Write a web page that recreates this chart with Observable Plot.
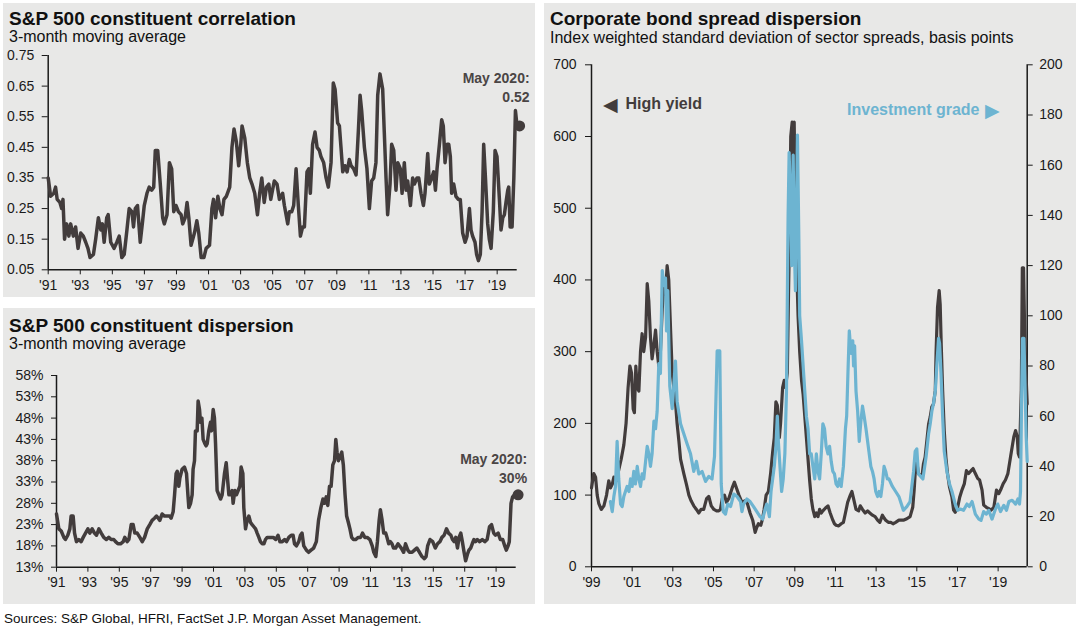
<!DOCTYPE html>
<html><head><meta charset="utf-8">
<script src="https://cdn.jsdelivr.net/npm/d3@7"></script>
<script src="https://cdn.jsdelivr.net/npm/@observablehq/plot@0.6"></script>
<style>
body{margin:0;width:1080px;height:630px;position:relative;background:#fff;font-family:"Liberation Sans",Arial,sans-serif;overflow:hidden}
.box{position:absolute;background:#e8e8e7}
.t{position:absolute;font-weight:bold;font-size:19px;line-height:19px;color:#111;white-space:nowrap}
.s{position:absolute;font-size:16px;line-height:16px;color:#111;white-space:nowrap}
.src{position:absolute;font-size:13.5px;line-height:13.5px;color:#111;white-space:nowrap}
.chart{position:absolute}
</style></head><body>
<div class="box" style="left:3px;top:3px;width:532px;height:294px"></div>
<div class="box" style="left:3px;top:308px;width:532px;height:296px"></div>
<div class="box" style="left:544px;top:3px;width:532px;height:601px"></div>
<div class="t" style="left:9px;top:9px">S&amp;P 500 constituent correlation</div>
<div class="s" style="left:9px;top:29px">3-month moving average</div>
<div class="t" style="left:9px;top:316px">S&amp;P 500 constituent dispersion</div>
<div class="s" style="left:9px;top:336px">3-month moving average</div>
<div class="t" style="left:550px;top:9px">Corporate bond spread dispersion</div>
<div class="s" style="left:550px;top:29.5px">Index weighted standard deviation of sector spreads, basis points</div>
<div class="src" style="left:4px;top:611.5px">Sources: S&amp;P Global, HFRI, FactSet J.P. Morgan Asset Management.</div>
<div id="c1" class="chart" style="left:0;top:0"></div>
<div id="c2" class="chart" style="left:0;top:300px"></div>
<div id="c3" class="chart" style="left:540px;top:0"></div>
<script>
// ---------- DATA ----------
const leftYearTicks = [1991,1993,1995,1997,1999,2001,2003,2005,2007,2009,2011,2013,2015,2017,2019];
const bondYearTicks = [1999,2001,2003,2005,2007,2009,2011,2013,2015,2017,2019];
const corrTicks = [0.05,0.15,0.25,0.35,0.45,0.55,0.65,0.75];
const dispTicks = [13,18,23,28,33,38,43,48,53,58];
const hyTicks = [0,100,200,300,400,500,600,700];
const igTicks = [0,20,40,60,80,100,120,140,160,180,200];
const annotationLabel = "May 2020:";
const hyLabel = "High yield";
const igLabel = "Investment grade";

// S&P 500 constituent correlation, [decimal year, value]
const corrSeries = [
[1991.00,0.35],[1991.15,0.29],[1991.35,0.30],[1991.46,0.32],[1991.56,0.28],[1991.73,0.27],[1991.84,0.25],[1991.92,0.28],[1992.02,0.15],[1992.15,0.20],[1992.29,0.16],[1992.40,0.20],[1992.57,0.16],[1992.71,0.19],[1992.86,0.12],[1993.03,0.17],[1993.19,0.16],[1993.34,0.14],[1993.48,0.12],[1993.61,0.09],[1993.82,0.10],[1993.96,0.15],[1994.13,0.22],[1994.28,0.18],[1994.38,0.20],[1994.49,0.14],[1994.65,0.22],[1994.74,0.23],[1994.90,0.14],[1995.11,0.12],[1995.28,0.14],[1995.43,0.16],[1995.59,0.09],[1995.74,0.10],[1995.91,0.18],[1996.05,0.25],[1996.22,0.24],[1996.32,0.19],[1996.43,0.25],[1996.57,0.26],[1996.74,0.14],[1996.89,0.21],[1996.99,0.26],[1997.16,0.30],[1997.30,0.32],[1997.45,0.31],[1997.58,0.32],[1997.68,0.44],[1997.83,0.44],[1997.99,0.33],[1998.14,0.22],[1998.24,0.20],[1998.41,0.23],[1998.56,0.40],[1998.70,0.38],[1998.83,0.24],[1998.97,0.26],[1999.12,0.24],[1999.29,0.23],[1999.39,0.20],[1999.54,0.22],[1999.66,0.27],[1999.77,0.22],[1999.91,0.13],[2000.12,0.17],[2000.27,0.21],[2000.39,0.17],[2000.54,0.09],[2000.71,0.09],[2000.85,0.12],[2001.06,0.13],[2001.21,0.25],[2001.31,0.28],[2001.44,0.22],[2001.58,0.29],[2001.71,0.25],[2001.84,0.23],[2001.96,0.28],[2002.11,0.29],[2002.32,0.32],[2002.46,0.45],[2002.59,0.51],[2002.73,0.47],[2002.88,0.39],[2003.01,0.46],[2003.09,0.52],[2003.26,0.48],[2003.42,0.40],[2003.57,0.35],[2003.71,0.33],[2003.88,0.30],[2004.05,0.23],[2004.19,0.30],[2004.32,0.35],[2004.47,0.27],[2004.61,0.32],[2004.76,0.33],[2004.88,0.28],
[2005.10,0.34],[2005.27,0.33],[2005.42,0.28],[2005.62,0.30],[2005.73,0.26],[2005.94,0.20],[2006.04,0.24],[2006.19,0.24],[2006.31,0.26],[2006.46,0.38],[2006.60,0.26],[2006.73,0.16],[2006.87,0.19],[2006.98,0.19],[2007.14,0.37],[2007.25,0.38],[2007.35,0.30],[2007.49,0.46],[2007.64,0.50],[2007.77,0.45],[2007.91,0.44],[2008.01,0.42],[2008.18,0.40],[2008.33,0.35],[2008.47,0.32],[2008.64,0.40],[2008.78,0.66],[2008.89,0.64],[2009.05,0.53],[2009.16,0.52],[2009.26,0.45],[2009.37,0.37],[2009.51,0.39],[2009.64,0.37],[2009.78,0.41],[2009.89,0.39],[2010.05,0.38],[2010.20,0.36],[2010.34,0.50],[2010.45,0.62],[2010.55,0.57],[2010.72,0.45],[2010.88,0.38],[2011.03,0.25],[2011.17,0.34],[2011.30,0.35],[2011.44,0.40],[2011.55,0.62],[2011.69,0.69],[2011.86,0.64],[2011.96,0.50],[2012.07,0.35],[2012.17,0.23],[2012.32,0.33],[2012.42,0.46],[2012.55,0.44],[2012.69,0.31],[2012.80,0.40],[2012.96,0.38],[2013.07,0.30],[2013.21,0.40],[2013.32,0.31],[2013.42,0.34],[2013.59,0.26],[2013.73,0.35],[2013.84,0.33],[2014.00,0.35],[2014.11,0.35],[2014.25,0.30],[2014.40,0.26],[2014.50,0.30],[2014.67,0.43],[2014.77,0.33],[2014.92,0.35],[2015.04,0.37],[2015.15,0.31],[2015.25,0.38],[2015.40,0.46],[2015.54,0.54],[2015.64,0.52],[2015.75,0.40],[2015.88,0.46],[2015.98,0.46],[2016.08,0.42],[2016.16,0.30],[2016.29,0.33],[2016.43,0.29],[2016.58,0.28],[2016.70,0.28],[2016.85,0.17],[2017.00,0.14],[2017.12,0.16],[2017.27,0.25],[2017.37,0.18],[2017.47,0.16],[2017.62,0.14],[2017.72,0.10],[2017.83,0.08],[2017.95,0.10],[2018.06,0.24],[2018.16,0.46],[2018.27,0.35],[2018.41,0.20],[2018.51,0.15],[2018.62,0.12],[2018.76,0.24],[2018.87,0.44],[2018.99,0.42],[2019.14,0.28],[2019.24,0.18],[2019.35,0.22],[2019.45,0.23],[2019.55,0.27],[2019.66,0.31],[2019.72,0.32],[2019.81,0.19],[2019.93,0.19],[2020.04,0.35],[2020.14,0.57],[2020.24,0.52],[2020.40,0.52]
];

// S&P 500 constituent dispersion (%), [decimal year, value]
const dispSeries = [
[1991.00,25.5],[1991.15,22],[1991.30,21.5],[1991.47,20],[1991.57,19.5],[1991.72,20.5],[1991.85,22],[1991.93,25],[1992.06,25],[1992.15,21],[1992.27,19],[1992.42,19.5],[1992.57,19],[1992.70,20],[1992.85,21],[1993.00,22],[1993.12,21],[1993.27,22],[1993.42,21],[1993.55,20.5],[1993.70,22],[1993.85,21],[1994.01,20],[1994.18,19.5],[1994.33,20],[1994.48,19.5],[1994.65,19.5],[1994.76,19],[1994.91,18.5],[1995.08,18.5],[1995.25,19],[1995.35,20],[1995.50,19],[1995.61,19.5],[1995.76,23],[1995.88,23],[1995.99,21],[1996.14,21],[1996.31,20],[1996.46,19],[1996.61,20],[1996.78,22],[1996.94,23],[1997.09,24],[1997.24,24.5],[1997.37,25],[1997.48,24.5],[1997.58,24],[1997.73,25.5],[1997.88,25],[1998.05,25],[1998.20,25],[1998.30,24.5],[1998.43,26],[1998.52,30],[1998.62,35],[1998.69,35.5],[1998.79,32],[1998.86,34],[1999.00,36],[1999.15,36.5],[1999.28,35],[1999.37,30],[1999.43,27],[1999.54,28],[1999.64,30],[1999.70,36],[1999.79,38],[1999.85,45],[1999.96,45],[2000.02,52],[2000.11,50],[2000.17,47],[2000.26,48],[2000.34,43],[2000.45,42],[2000.53,41.5],[2000.60,42],[2000.70,45],[2000.81,47],[2000.87,45],[2000.98,50],[2001.06,48],[2001.13,42],[2001.23,31],[2001.34,30],[2001.45,29],[2001.55,30],[2001.70,35],[2001.81,37.5],[2001.91,33],[2001.98,30],[2002.08,30],[2002.19,31],[2002.25,28],[2002.36,31],[2002.46,30],[2002.57,31],[2002.68,32],[2002.76,36.5],[2002.87,35],[2002.93,27],[2003.04,22],[2003.14,24],[2003.25,25],[2003.36,23.5],[2003.46,23],[2003.57,22.5],[2003.68,22],[2003.78,21],[2003.89,20],[2003.99,19],[2004.10,18.5],[2004.21,18.5],[2004.31,19.5],[2004.42,20],[2004.59,20],
[2004.81,20],[2004.96,19.5],[2005.11,20.5],[2005.23,19],[2005.38,19],[2005.53,19.5],[2005.65,19],[2005.80,20],[2005.95,20.5],[2006.07,20.5],[2006.16,18.5],[2006.28,18],[2006.43,19],[2006.54,20.5],[2006.64,21],[2006.75,18],[2006.92,17],[2007.06,16.5],[2007.21,17],[2007.38,17.5],[2007.55,19],[2007.69,24],[2007.84,27],[2007.97,29],[2008.07,28],[2008.18,29.5],[2008.28,27.5],[2008.39,32],[2008.49,32],[2008.60,37],[2008.71,38],[2008.79,43],[2008.87,40],[2008.96,38],[2009.06,39],[2009.17,40],[2009.27,37],[2009.38,30],[2009.48,25],[2009.59,23.5],[2009.69,22],[2009.80,20],[2009.91,19.5],[2010.05,19.5],[2010.22,20],[2010.37,20],[2010.49,21],[2010.64,20],[2010.79,20],[2010.96,19.5],[2011.11,18],[2011.21,16.5],[2011.34,15.5],[2011.44,19],[2011.55,24],[2011.63,26.5],[2011.74,24],[2011.84,21],[2011.97,21],[2012.05,20],[2012.16,18.5],[2012.26,19],[2012.37,18.5],[2012.47,17.5],[2012.60,17.5],[2012.75,18.5],[2012.85,18],[2012.96,17.5],[2013.11,16.5],[2013.23,18.5],[2013.38,17],[2013.48,16.5],[2013.65,16.5],[2013.80,17],[2013.95,17.5],[2014.12,16.5],[2014.28,15.5],[2014.43,15],[2014.54,15.5],[2014.64,18],[2014.79,19.5],[2014.96,19],[2015.13,17.5],[2015.27,18.5],[2015.42,19],[2015.55,20],[2015.69,20.5],[2015.84,22],[2015.97,21],[2016.12,20.5],[2016.22,19.5],[2016.33,19],[2016.43,20],[2016.54,17.5],[2016.64,20],[2016.75,21],[2016.85,19],[2016.96,16.5],[2017.06,14.5],[2017.17,16],[2017.27,17],[2017.38,17.5],[2017.48,18.5],[2017.59,19.5],[2017.69,19],[2017.80,19.5],[2017.95,19],[2018.12,19.5],[2018.28,19],[2018.43,19.5],[2018.58,22.5],[2018.71,23],[2018.85,21],[2018.96,20.5],[2019.13,21],[2019.27,19.5],[2019.42,19.5],[2019.55,18],[2019.65,17],[2019.76,18],[2019.84,19],[2019.95,28],[2020.05,29.5],[2020.18,30],[2020.26,30],[2020.40,30]
];

// High yield sector spread dispersion (bp), [decimal year, value]
const hySeries = [
[1999.00,110],[1999.11,130],[1999.20,125],[1999.28,100],[1999.36,88],[1999.48,80],[1999.61,85],[1999.74,100],[1999.85,120],[1999.93,110],[2000.02,115],[2000.10,125],[2000.23,120],[2000.34,135],[2000.46,150],[2000.59,170],[2000.70,200],[2000.80,250],[2000.89,280],[2000.97,270],[2001.05,220],[2001.11,215],[2001.18,280],[2001.25,250],[2001.33,245],[2001.41,300],[2001.49,325],[2001.57,300],[2001.66,320],[2001.74,395],[2001.82,370],[2001.90,320],[2001.98,290],[2002.07,310],[2002.15,330],[2002.23,300],[2002.31,280],[2002.39,300],[2002.48,360],[2002.56,390],[2002.64,380],[2002.72,420],[2002.80,400],[2002.89,330],[2002.97,270],[2003.05,250],[2003.13,230],[2003.21,200],[2003.30,175],[2003.38,150],[2003.46,140],[2003.54,130],[2003.67,115],[2003.79,100],[2003.90,92],[2004.03,85],[2004.16,80],[2004.28,75],[2004.39,80],[2004.52,80],[2004.66,95],[2004.77,98],[2004.89,85],[2005.02,80],[2005.15,78],[2005.26,78],[2005.34,80],[2005.43,95],[2005.54,100],[2005.64,90],[2005.75,95],[2005.92,110],[2006.03,118],[2006.13,110],[2006.25,100],
[2006.40,90],[2006.56,92],[2006.67,88],[2006.80,75],[2006.93,65],[2007.05,48],[2007.13,55],[2007.21,60],[2007.33,58],[2007.42,68],[2007.49,80],[2007.59,100],[2007.70,105],[2007.81,130],[2007.91,160],[2007.99,180],[2008.07,230],[2008.14,225],[2008.24,180],[2008.30,200],[2008.40,250],[2008.48,260],[2008.54,250],[2008.63,270],[2008.69,380],[2008.76,500],[2008.80,600],[2008.87,620],[2008.92,510],[2008.97,620],[2009.02,500],[2009.08,430],[2009.16,350],[2009.24,300],[2009.33,260],[2009.41,240],[2009.49,210],[2009.57,180],[2009.65,150],[2009.73,120],[2009.81,95],[2009.89,80],[2009.98,70],[2010.06,75],[2010.14,70],[2010.22,80],[2010.30,75],[2010.38,78],[2010.51,82],[2010.63,85],[2010.74,75],[2010.87,65],[2010.95,60],[2011.03,58],[2011.16,57],[2011.28,60],[2011.39,62],[2011.49,75],[2011.60,90],[2011.73,100],[2011.81,105],[2011.89,95],[2012.01,80],[2012.14,78],[2012.22,85],[2012.33,80],[2012.46,75],[2012.58,78],[2012.69,75],[2012.82,72],[2012.95,70],[2013.07,65],[2013.18,62],[2013.31,72],[2013.39,68],[2013.47,65],[2013.60,62],[2013.72,62],[2013.83,60],[2013.96,62],[2014.12,65],
[2014.34,65],[2014.51,67],[2014.67,70],[2014.80,83],[2014.87,107],[2014.95,144],[2015.00,146],[2015.08,130],[2015.25,125],[2015.33,144],[2015.41,153],[2015.58,199],[2015.66,209],[2015.74,223],[2015.82,227],[2015.91,246],[2015.95,301],[2016.02,362],[2016.10,385],[2016.15,366],[2016.20,311],[2016.27,246],[2016.35,190],[2016.43,153],[2016.51,130],[2016.61,111],[2016.73,97],[2016.81,79],[2016.89,76],[2017.01,83],[2017.11,97],[2017.22,107],[2017.34,116],[2017.44,134],[2017.55,130],[2017.67,134],[2017.77,137],[2017.88,130],[2018.00,123],[2018.09,121],[2018.21,107],[2018.29,86],[2018.42,83],[2018.54,81],[2018.65,79],[2018.79,83],[2018.92,107],[2019.03,102],[2019.12,107],[2019.25,116],[2019.36,121],[2019.48,130],[2019.61,153],[2019.69,167],[2019.77,181],[2019.86,190],[2019.94,181],[2019.99,158],[2020.05,153],[2020.14,246],[2020.19,417],[2020.25,417],[2020.30,338],[2020.37,269],[2020.43,227]
];

// Investment grade sector spread dispersion (bp), [decimal year, value]
const igSeries = [
[1999.93,26],[2000.02,22],[2000.10,28],[2000.18,32],[2000.26,50],[2000.34,35],[2000.43,25],[2000.51,24],[2000.59,28],[2000.67,30],[2000.75,32],[2000.84,30],[2000.92,35],[2001.00,32],[2001.08,38],[2001.16,33],[2001.25,40],[2001.33,35],[2001.41,32],[2001.49,37],[2001.57,35],[2001.66,42],[2001.74,48],[2001.82,45],[2001.90,40],[2001.98,45],[2002.07,58],[2002.15,55],[2002.23,62],[2002.31,81],[2002.39,77],[2002.48,118],[2002.56,112],[2002.64,115],[2002.69,94],[2002.75,110],[2002.85,72],[2002.97,63],[2003.13,82],[2003.21,66],[2003.38,57],[2003.54,53],[2003.70,49],[2003.87,45],[2004.03,38],[2004.16,42],[2004.28,37],[2004.44,38],[2004.61,34],[2004.77,36],[2004.93,35],[2005.05,44],[2005.18,86],[2005.31,86],[2005.38,33],[2005.48,22],[2005.59,21],[2005.70,25],[2005.84,24],[2006.00,29],[2006.16,28],[2006.33,26],
[2006.40,22],[2006.48,25],[2006.64,27],[2006.80,26],[2006.97,24],[2007.13,22],[2007.29,20],[2007.42,19],[2007.54,23],[2007.62,25],[2007.75,20],[2007.83,30],[2007.91,35],[2007.99,40],[2008.07,48],[2008.14,60],[2008.19,50],[2008.27,40],[2008.35,30],[2008.43,35],[2008.51,45],[2008.59,70],[2008.67,140],[2008.72,165],[2008.79,145],[2008.85,120],[2008.92,164],[2008.97,130],[2009.03,110],[2009.08,140],[2009.13,172],[2009.20,130],[2009.24,100],[2009.33,90],[2009.41,80],[2009.49,70],[2009.57,60],[2009.65,55],[2009.73,45],[2009.81,45],[2009.89,40],[2009.98,35],[2010.06,45],[2010.14,38],[2010.22,35],[2010.30,45],[2010.38,57],[2010.46,55],[2010.54,48],[2010.63,45],[2010.71,48],[2010.79,42],[2010.87,38],[2010.95,37],[2011.03,33],[2011.11,32],[2011.20,35],[2011.28,32],[2011.39,40],[2011.49,55],[2011.55,60],[2011.62,79],[2011.68,94],[2011.76,85],[2011.85,90],[2011.89,80],[2011.94,88],[2012.01,70],[2012.09,62],[2012.17,50],[2012.25,58],[2012.33,64],[2012.41,60],[2012.50,55],[2012.58,50],[2012.66,45],[2012.74,40],[2012.82,38],[2012.90,35],[2012.98,30],[2013.07,28],[2013.15,30],[2013.23,28],[2013.31,33],[2013.39,40],[2013.47,38],[2013.55,35],[2013.63,35],[2013.80,32],[2013.96,30],[2014.12,28],
[2014.34,22.5],[2014.51,24],[2014.67,26],[2014.84,38],[2014.92,46],[2015.00,47],[2015.08,37],[2015.20,36],[2015.30,35],[2015.46,44],[2015.58,53],[2015.66,57],[2015.74,62],[2015.82,65],[2015.91,70],[2015.99,81],[2016.07,91],[2016.12,89],[2016.19,77],[2016.27,60],[2016.35,46],[2016.48,38],[2016.61,33],[2016.73,30],[2016.89,25],[2017.01,22.5],[2017.14,23],[2017.30,22.5],[2017.47,25],[2017.58,24],[2017.72,26],[2017.88,21],[2018.05,19],[2018.16,18.5],[2018.29,22],[2018.42,21],[2018.54,22.5],[2018.70,19],[2018.87,23],[2018.98,25],[2019.12,22],[2019.28,24.5],[2019.41,22.5],[2019.53,26],[2019.69,26.5],[2019.86,25],[2019.97,27],[2020.05,25],[2020.10,30],[2020.15,64],[2020.20,91],[2020.27,91],[2020.33,70],[2020.38,52],[2020.43,42]
];

// ---------- STYLE ----------
const DARK = "#423c3c";
const BLUE = "#6db4d1";
const AXIS = "#1a1a1a";
const NOTE = "#4a4545";
const FONT = '"Liberation Sans", Arial, sans-serif';
const baseStyle = {background:"transparent", fontFamily:FONT, fontSize:"14px", color:AXIS, overflow:"visible"};
const fmtYear = d => "'" + String(d).slice(2);
const toRows = s => s.map(([t, v]) => ({t, v}));

// ---------- Chart 1: correlation ----------
{
  const data = toRows(corrSeries);
  const last = data[data.length - 1];
  const chart = Plot.plot({
    width: 540, height: 300,
    marginLeft: 47.7, marginRight: 23.3, marginTop: 55, marginBottom: 30.7,
    style: baseStyle,
    x: {type: "linear", domain: [1991, 2020.25], label: null},
    y: {domain: [0.05, 0.75], label: null},
    marks: [
      Plot.axisX({ticks: leftYearTicks, tickFormat: fmtYear, tickSize: 5, tickPadding: 5, fontSize: 14, stroke: AXIS, label: null}),
      Plot.axisY({ticks: corrTicks, tickFormat: d3.format(".2f"), tickSize: 6, tickPadding: 8, fontSize: 14, stroke: AXIS, label: null}),
      Plot.ruleX([1991], {stroke: AXIS, strokeWidth: 1.5}),
      Plot.ruleY([0.05], {stroke: AXIS, strokeWidth: 1.5}),
      Plot.line(data, {x: "t", y: "v", stroke: DARK, strokeWidth: 3.5, strokeLinejoin: "round"}),
      Plot.dot([last], {x: "t", y: "v", r: 5.5, fill: DARK}),
      Plot.text([last], {x: "t", y: "v", text: d => annotationLabel + "\n" + d.v.toFixed(2),
        textAnchor: "end", lineAnchor: "bottom", dx: 10, dy: -24, lineHeight: 1.33,
        fontWeight: "bold", fontSize: 14, fill: NOTE})
    ]
  });
  document.getElementById("c1").append(chart);
}

// ---------- Chart 2: dispersion ----------
{
  const data = toRows(dispSeries);
  const last = data[data.length - 1];
  const chart = Plot.plot({
    width: 540, height: 300,
    marginLeft: 56, marginRight: 24.3, marginTop: 75, marginBottom: 33.3,
    style: baseStyle,
    x: {type: "linear", domain: [1991, 2020.28], label: null},
    y: {domain: [13, 58], label: null},
    marks: [
      Plot.axisX({ticks: leftYearTicks, tickFormat: fmtYear, tickSize: 5, tickPadding: 5, fontSize: 14, stroke: AXIS, label: null}),
      Plot.axisY({ticks: dispTicks, tickFormat: d => d + "%", tickSize: 5, tickPadding: 8, fontSize: 14, stroke: AXIS, label: null}),
      Plot.ruleX([1991], {stroke: AXIS, strokeWidth: 1.5}),
      Plot.ruleY([13], {stroke: AXIS, strokeWidth: 1.5}),
      Plot.line(data, {x: "t", y: "v", stroke: DARK, strokeWidth: 3.5, strokeLinejoin: "round"}),
      Plot.dot([last], {x: "t", y: "v", r: 5.5, fill: DARK}),
      Plot.text([last], {x: "t", y: "v", text: d => annotationLabel + "\n" + d.v + "%",
        textAnchor: "end", lineAnchor: "bottom", dx: 9, dy: -12, lineHeight: 1.33,
        fontWeight: "bold", fontSize: 14, fill: NOTE})
    ]
  });
  document.getElementById("c2").append(chart);
}

// ---------- Chart 3: bond spread dispersion ----------
{
  const hyDomain = [0, 700], igDomain = [0, 200];
  const k = hyDomain[1] / igDomain[1];
  const xDomain = [1999, 2020.43];
  const hy = toRows(hySeries);
  const ig = toRows(igSeries);
  const chart = Plot.plot({
    width: 540, height: 610,
    marginLeft: 51, marginRight: 53.3, marginTop: 64.3, marginBottom: 43.7,
    style: baseStyle,
    x: {type: "linear", domain: xDomain, label: null},
    y: {domain: hyDomain, label: null},
    marks: [
      Plot.axisX({ticks: bondYearTicks, tickFormat: fmtYear, tickSize: 5, tickPadding: 5, fontSize: 14, stroke: AXIS, label: null}),
      Plot.axisY({ticks: hyTicks, tickSize: 6, tickPadding: 9, fontSize: 14, stroke: AXIS, label: null}),
      Plot.axisY({anchor: "right", ticks: igTicks.map(d => d * k), tickFormat: d => Math.round(d / k), tickSize: 5, tickPadding: 7, fontSize: 14, stroke: AXIS, label: null}),
      Plot.ruleX([xDomain[0]], {stroke: AXIS, strokeWidth: 1.5}),
      Plot.ruleX([xDomain[1]], {stroke: AXIS, strokeWidth: 1.5}),
      Plot.ruleY([0], {stroke: AXIS, strokeWidth: 1.5}),
      Plot.line(hy, {x: "t", y: "v", stroke: DARK, strokeWidth: 3.2, strokeLinejoin: "round"}),
      Plot.line(ig, {x: "t", y: d => d.v * k, stroke: BLUE, strokeWidth: 3.2, strokeLinejoin: "round"}),
      Plot.text(["◀"], {frameAnchor: "top-left", dx: 11, dy: 33, textAnchor: "start",
        fontSize: 19, fill: DARK}),
      Plot.text([hyLabel], {frameAnchor: "top-left", dx: 34, dy: 33, textAnchor: "start",
        fontWeight: "bold", fontSize: 16, fill: DARK}),
      Plot.text([igLabel], {frameAnchor: "top-right", dx: -47.7, dy: 38.5, textAnchor: "end",
        fontWeight: "bold", fontSize: 16, fill: BLUE}),
      Plot.text(["▶"], {frameAnchor: "top-right", dx: -27.5, dy: 38.5, textAnchor: "end",
        fontSize: 19, fill: BLUE})
    ]
  });
  document.getElementById("c3").append(chart);
}
</script>
</body></html>
